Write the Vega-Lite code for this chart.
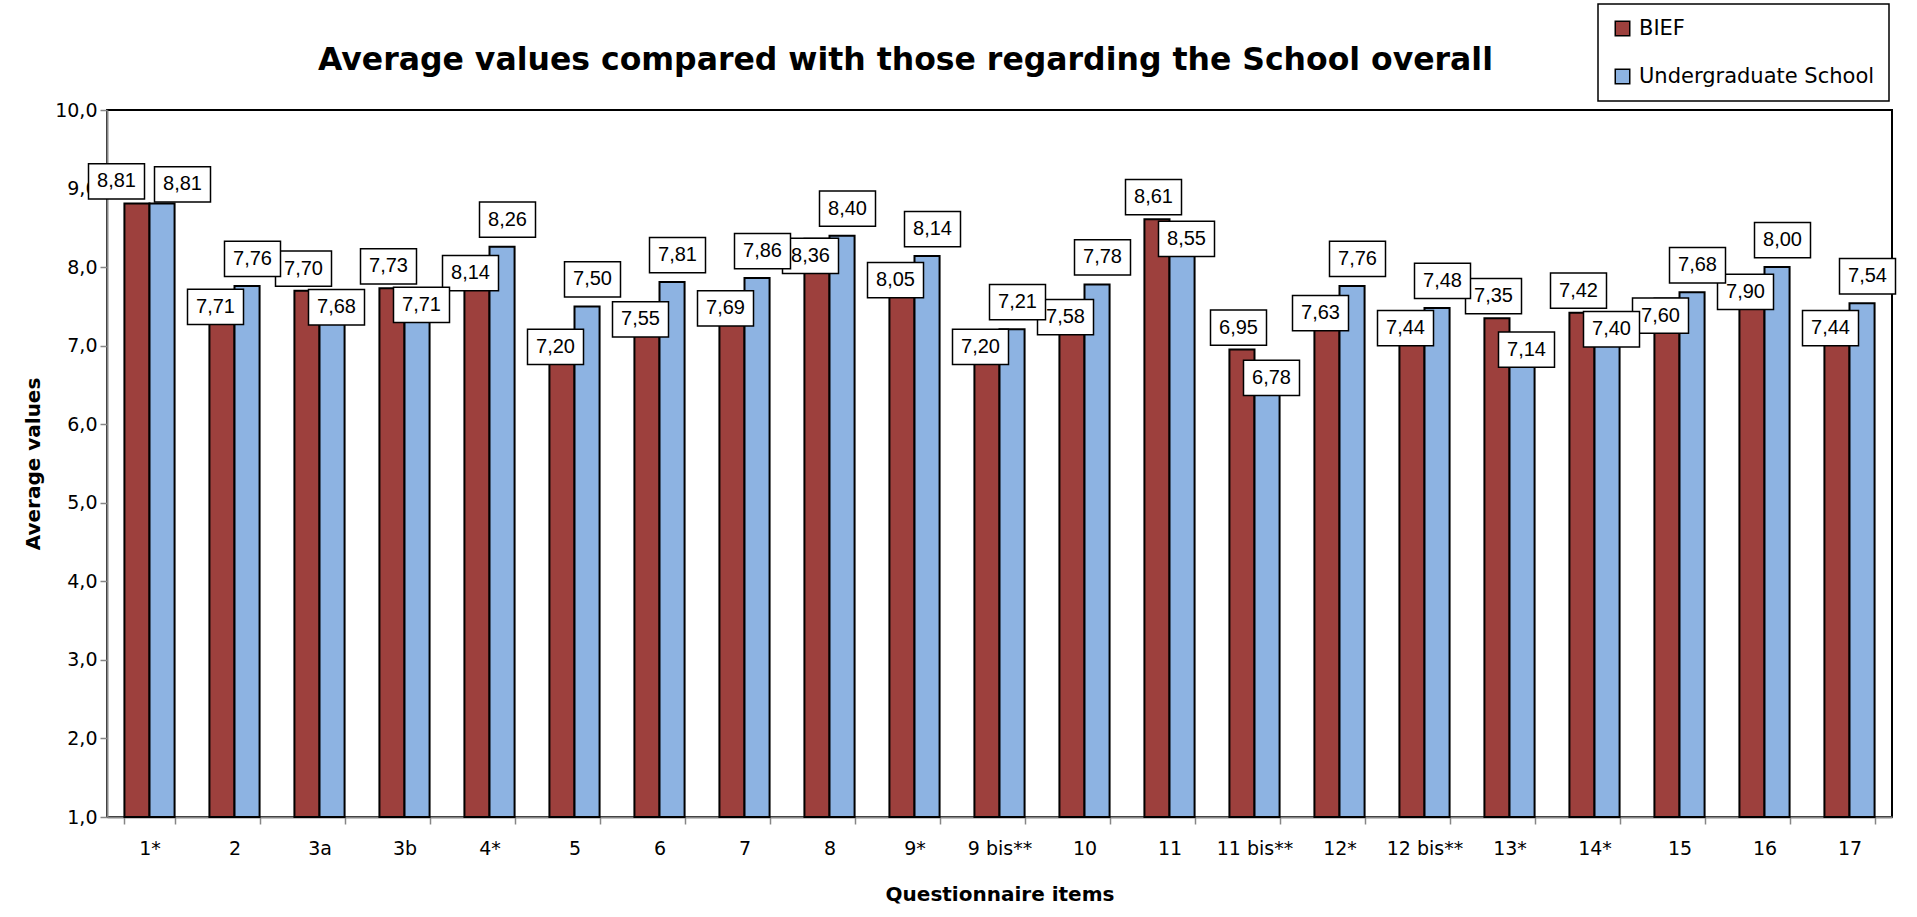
{
  "$schema": "https://vega.github.io/schema/vega-lite/v6.json",
  "width": 1785,
  "height": 707,
  "autosize": "none",
  "padding": {"left": 107, "top": 110, "right": 25, "bottom": 100},
  "background": "white",
  "title": {
    "text": "Average values compared with those regarding the School overall",
    "font": "DejaVu Sans",
    "fontSize": 31.5,
    "fontWeight": "bold",
    "color": "black",
    "anchor": "middle",
    "frame": "group",
    "baseline": "middle",
    "dx": -94,
    "dy": 89,
    "offset": 0
  },
  "data": {
    "values": [
      {"item": "1*", "series": "BIEF", "value": 8.81},
      {"item": "1*", "series": "Undergraduate School", "value": 8.81},
      {"item": "2", "series": "BIEF", "value": 7.71},
      {"item": "2", "series": "Undergraduate School", "value": 7.76},
      {"item": "3a", "series": "BIEF", "value": 7.70},
      {"item": "3a", "series": "Undergraduate School", "value": 7.68},
      {"item": "3b", "series": "BIEF", "value": 7.73},
      {"item": "3b", "series": "Undergraduate School", "value": 7.71},
      {"item": "4*", "series": "BIEF", "value": 8.14},
      {"item": "4*", "series": "Undergraduate School", "value": 8.26},
      {"item": "5", "series": "BIEF", "value": 7.20},
      {"item": "5", "series": "Undergraduate School", "value": 7.50},
      {"item": "6", "series": "BIEF", "value": 7.55},
      {"item": "6", "series": "Undergraduate School", "value": 7.81},
      {"item": "7", "series": "BIEF", "value": 7.69},
      {"item": "7", "series": "Undergraduate School", "value": 7.86},
      {"item": "8", "series": "BIEF", "value": 8.36},
      {"item": "8", "series": "Undergraduate School", "value": 8.40},
      {"item": "9*", "series": "BIEF", "value": 8.05},
      {"item": "9*", "series": "Undergraduate School", "value": 8.14},
      {"item": "9 bis**", "series": "BIEF", "value": 7.20},
      {"item": "9 bis**", "series": "Undergraduate School", "value": 7.21},
      {"item": "10", "series": "BIEF", "value": 7.58},
      {"item": "10", "series": "Undergraduate School", "value": 7.78},
      {"item": "11", "series": "BIEF", "value": 8.61},
      {"item": "11", "series": "Undergraduate School", "value": 8.55},
      {"item": "11 bis**", "series": "BIEF", "value": 6.95},
      {"item": "11 bis**", "series": "Undergraduate School", "value": 6.78},
      {"item": "12*", "series": "BIEF", "value": 7.63},
      {"item": "12*", "series": "Undergraduate School", "value": 7.76},
      {"item": "12 bis**", "series": "BIEF", "value": 7.44},
      {"item": "12 bis**", "series": "Undergraduate School", "value": 7.48},
      {"item": "13*", "series": "BIEF", "value": 7.35},
      {"item": "13*", "series": "Undergraduate School", "value": 7.14},
      {"item": "14*", "series": "BIEF", "value": 7.42},
      {"item": "14*", "series": "Undergraduate School", "value": 7.40},
      {"item": "15", "series": "BIEF", "value": 7.60},
      {"item": "15", "series": "Undergraduate School", "value": 7.68},
      {"item": "16", "series": "BIEF", "value": 7.90},
      {"item": "16", "series": "Undergraduate School", "value": 8.00},
      {"item": "17", "series": "BIEF", "value": 7.44},
      {"item": "17", "series": "Undergraduate School", "value": 7.54}
    ]
  },
  "transform": [
    {"joinaggregate": [{"op": "max", "field": "value", "as": "mx"}, {"op": "min", "field": "value", "as": "mn"}], "groupby": ["item"]},
    {"calculate": "replace(format(datum.value, '.2f'), '.', ',')", "as": "lab"}
  ],
  "encoding": {
    "x": {
      "field": "item",
      "type": "nominal",
      "sort": null,
      "scale": {"paddingInner": 0.41, "paddingOuter": 0.205},
      "axis": {
        "title": "Questionnaire items",
        "labelAngle": 0,
        "tickBand": "extent",
        "tickSize": 7,
        "labelPadding": 15,
        "titlePadding": 26
      }
    },
    "y": {
      "field": "value",
      "type": "quantitative",
      "scale": {"domain": [1, 10], "zero": false, "nice": false},
      "axis": {
        "title": "Average values",
        "values": [1, 2, 3, 4, 5, 6, 7, 8, 9, 10],
        "labelExpr": "replace(format(datum.value, '.1f'), '.', ',')",
        "tickSize": 7,
        "labelPadding": 3,
        "titlePadding": 11
      }
    }
  },
  "layer": [
    {
      "mark": {"type": "bar", "stroke": "black", "strokeWidth": 2},
      "encoding": {
        "xOffset": {"field": "series", "type": "nominal", "sort": ["BIEF", "Undergraduate School"]},
        "y2": {"datum": 1},
        "color": {
          "field": "series",
          "type": "nominal",
          "scale": {"domain": ["BIEF", "Undergraduate School"], "range": ["#9D403D", "#8DB3E2"]},
          "legend": {"title": null}
        }
      }
    },
    {
      "transform": [{"filter": "datum.series == 'BIEF' && datum.value == datum.mx && datum.mx != datum.mn"}],
      "mark": {"type": "point", "shape": "M-1,-0.63H1V0.63H-1Z", "size": 3136, "filled": true, "fill": "white", "stroke": "black", "strokeWidth": 1.5, "opacity": 1, "xOffset": -16, "yOffset": -22},
      "encoding": {}
    },
    {
      "transform": [{"filter": "datum.series == 'BIEF' && datum.value == datum.mx && datum.mx != datum.mn"}],
      "mark": {"type": "text", "font": "Liberation Sans", "fontSize": 20, "color": "black", "baseline": "middle", "xOffset": -16, "yOffset": -22},
      "encoding": {"text": {"field": "lab"}}
    },
    {
      "transform": [{"filter": "datum.series == 'BIEF' && datum.value < datum.mx"}],
      "mark": {"type": "point", "shape": "M-1,-0.63H1V0.63H-1Z", "size": 3136, "filled": true, "fill": "white", "stroke": "black", "strokeWidth": 1.5, "opacity": 1, "xOffset": -19, "yOffset": 17},
      "encoding": {}
    },
    {
      "transform": [{"filter": "datum.series == 'BIEF' && datum.value < datum.mx"}],
      "mark": {"type": "text", "font": "Liberation Sans", "fontSize": 20, "color": "black", "baseline": "middle", "xOffset": -19, "yOffset": 17},
      "encoding": {"text": {"field": "lab"}}
    },
    {
      "transform": [{"filter": "datum.series == 'BIEF' && datum.mx == datum.mn"}],
      "mark": {"type": "point", "shape": "M-1,-0.63H1V0.63H-1Z", "size": 3136, "filled": true, "fill": "white", "stroke": "black", "strokeWidth": 1.5, "opacity": 1, "xOffset": -33, "yOffset": -22},
      "encoding": {}
    },
    {
      "transform": [{"filter": "datum.series == 'BIEF' && datum.mx == datum.mn"}],
      "mark": {"type": "text", "font": "Liberation Sans", "fontSize": 20, "color": "black", "baseline": "middle", "xOffset": -33, "yOffset": -22},
      "encoding": {"text": {"field": "lab"}}
    },
    {
      "transform": [{"filter": "datum.series != 'BIEF' && datum.value == datum.mx && datum.mx != datum.mn"}],
      "mark": {"type": "point", "shape": "M-1,-0.63H1V0.63H-1Z", "size": 3136, "filled": true, "fill": "white", "stroke": "black", "strokeWidth": 1.5, "opacity": 1, "xOffset": 18, "yOffset": -27},
      "encoding": {}
    },
    {
      "transform": [{"filter": "datum.series != 'BIEF' && datum.value == datum.mx && datum.mx != datum.mn"}],
      "mark": {"type": "text", "font": "Liberation Sans", "fontSize": 20, "color": "black", "baseline": "middle", "xOffset": 18, "yOffset": -27},
      "encoding": {"text": {"field": "lab"}}
    },
    {
      "transform": [{"filter": "datum.series != 'BIEF' && datum.value < datum.mx"}],
      "mark": {"type": "point", "shape": "M-1,-0.63H1V0.63H-1Z", "size": 3136, "filled": true, "fill": "white", "stroke": "black", "strokeWidth": 1.5, "opacity": 1, "xOffset": 17, "yOffset": 15},
      "encoding": {}
    },
    {
      "transform": [{"filter": "datum.series != 'BIEF' && datum.value < datum.mx"}],
      "mark": {"type": "text", "font": "Liberation Sans", "fontSize": 20, "color": "black", "baseline": "middle", "xOffset": 17, "yOffset": 15},
      "encoding": {"text": {"field": "lab"}}
    },
    {
      "transform": [{"filter": "datum.series != 'BIEF' && datum.mx == datum.mn"}],
      "mark": {"type": "point", "shape": "M-1,-0.63H1V0.63H-1Z", "size": 3136, "filled": true, "fill": "white", "stroke": "black", "strokeWidth": 1.5, "opacity": 1, "xOffset": 33, "yOffset": -19},
      "encoding": {}
    },
    {
      "transform": [{"filter": "datum.series != 'BIEF' && datum.mx == datum.mn"}],
      "mark": {"type": "text", "font": "Liberation Sans", "fontSize": 20, "color": "black", "baseline": "middle", "xOffset": 33, "yOffset": -19},
      "encoding": {"text": {"field": "lab"}}
    }
  ],
  "config": {
    "view": {"stroke": "black", "strokeWidth": 2},
    "axis": {
      "grid": false,
      "domainColor": "#868686",
      "domainWidth": 2,
      "tickColor": "#868686",
      "tickWidth": 1.5,
      "labelFont": "DejaVu Sans",
      "labelFontSize": 19,
      "labelColor": "black",
      "titleFont": "DejaVu Sans",
      "titleFontSize": 20,
      "titleFontWeight": "bold",
      "titleColor": "black"
    },
    "legend": {
      "orient": "none",
      "legendX": 1491,
      "legendY": -106,
      "strokeColor": "black",
      "strokeWidth": 1.5,
      "fillColor": "white",
      "padding": 14,
      "rowPadding": 26,
      "symbolType": "square",
      "symbolSize": 210,
      "symbolStrokeColor": "black",
      "symbolStrokeWidth": 1.5,
      "symbolOpacity": 1,
      "labelFont": "DejaVu Sans",
      "labelFontSize": 21,
      "labelColor": "black",
      "labelOffset": 6,
      "labelLimit": 400
    }
  }
}
